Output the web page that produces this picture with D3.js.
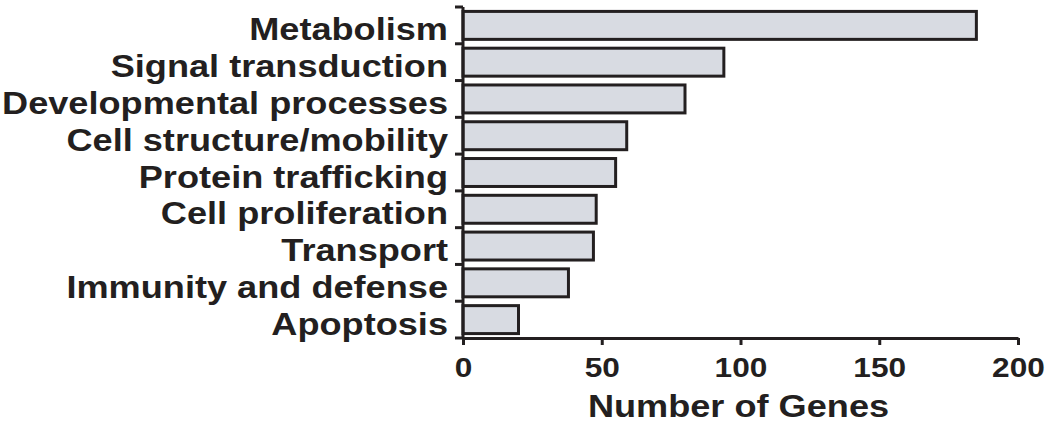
<!DOCTYPE html>
<html>
<head>
<meta charset="utf-8">
<script src="https://cdn.jsdelivr.net/npm/d3@7"></script>
<style>
  body { margin: 0; background: #fff; }
  text { font-family: "Liberation Sans", Arial, sans-serif; font-weight: bold; fill: #231f20; }
</style>
</head>
<body>
<div class="chart"></div>
<script>
// categories top to bottom and gene counts
const categories = [
  "Metabolism",
  "Signal transduction",
  "Developmental processes",
  "Cell structure/mobility",
  "Protein trafficking",
  "Cell proliferation",
  "Transport",
  "Immunity and defense",
  "Apoptosis",
];
const geneCounts = [185, 94, 80, 59, 55, 48, 47, 38, 20];
const xTicks = [0, 50, 100, 150, 200];

const width = 1050;
const height = 428;
const margin = { top: 7, right: 32, bottom: 90, left: 463 };
const stretch = 1.13; // original lettering is a bit wider than Liberation Sans

const svg = d3
  .select(".chart")
  .append("svg")
  .attr("width", width)
  .attr("height", height);

const x = d3
  .scaleLinear()
  .domain([0, 200])
  .range([margin.left, width - margin.right]);

const y = d3
  .scaleBand()
  .domain(categories)
  .range([margin.top, height - margin.bottom])
  .paddingInner(0.24)
  .paddingOuter(0.12);

const ink = "#231f20";

// bars
svg
  .append("g")
  .selectAll("rect")
  .data(categories)
  .enter()
  .append("rect")
  .attr("x", x(0))
  .attr("y", (d) => y(d))
  .attr("width", (d, i) => x(geneCounts[i]) - x(0))
  .attr("height", y.bandwidth())
  .attr("fill", "#d8dbe2")
  .attr("stroke", ink)
  .attr("stroke-width", 3);

// y axis: line with ticks at the band boundaries
const yAxis = svg.append("g").attr("stroke", ink).attr("stroke-width", 3);
yAxis
  .append("line")
  .attr("x1", x(0))
  .attr("x2", x(0))
  .attr("y1", margin.top)
  .attr("y2", height - margin.bottom);
const band = (height - margin.bottom - margin.top) / categories.length;
yAxis
  .selectAll("line.tick")
  .data(d3.range(categories.length + 1))
  .enter()
  .append("line")
  .attr("class", "tick")
  .attr("x1", x(0) - 8)
  .attr("x2", x(0))
  .attr("y1", (i) => margin.top + i * band)
  .attr("y2", (i) => margin.top + i * band);

// category labels
svg
  .append("g")
  .selectAll("text")
  .data(categories)
  .enter()
  .append("text")
  .attr("transform", (d) => `translate(${x(0) - 15},${y(d) + y.bandwidth() / 2 + 15}) scale(${stretch},1)`)
  .attr("text-anchor", "end")
  .attr("font-size", "32px")
  .text((d) => d);

// x axis
const xAxis = svg
  .append("g")
  .attr("transform", `translate(0,${height - margin.bottom})`)
  .call(d3.axisBottom(x).tickValues(xTicks).tickSize(7).tickSizeOuter(0));
xAxis.select(".domain").attr("stroke", ink).attr("stroke-width", 3);
xAxis.selectAll(".tick line").attr("stroke", ink).attr("stroke-width", 3);
xAxis
  .selectAll(".tick text")
  .attr("font-size", "28px")
  .attr("font-family", "Liberation Sans, Arial, sans-serif")
  .attr("font-weight", "bold")
  .attr("fill", ink)
  .attr("y", 0)
  .attr("dy", 0)
  .attr("transform", `translate(0,39) scale(${stretch},1)`);

// axis title
svg
  .append("text")
  .attr("transform", `translate(${(x(0) + x(200)) / 2 - 2},417) scale(${stretch},1)`)
  .attr("text-anchor", "middle")
  .attr("font-size", "32px")
  .text("Number of Genes");
</script>
</body>
</html>
